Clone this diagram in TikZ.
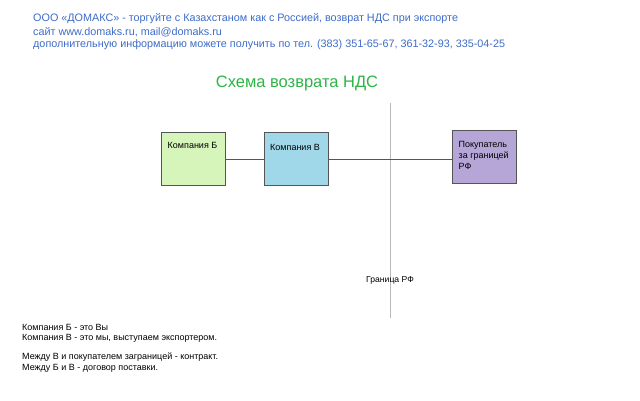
\documentclass[tikz,border=0pt]{standalone}
\usepackage{fontspec}
\setmainfont{Liberation Sans}
\usetikzlibrary{positioning}

\definecolor{hdrblue}{RGB}{62,108,200}
\definecolor{titlegreen}{RGB}{46,180,72}
\definecolor{fillB}{RGB}{214,245,186}
\definecolor{fillV}{RGB}{160,216,234}
\definecolor{fillBuyer}{RGB}{181,166,215}
\definecolor{edgegray}{RGB}{85,85,85}
\definecolor{bordergray}{RGB}{185,185,185}

\begin{document}
\begin{tikzpicture}[x=1pt, y=-1pt,
  hdr/.style={text=hdrblue, anchor=west, inner sep=0, font=\fontsize{10.8}{12}\selectfont},
  firm/.style={draw=edgegray, line width=1pt, minimum width=64pt, minimum height=52pt, inner sep=0},
  firmtext/.style={anchor=north west, inner sep=0, align=left, font=\fontsize{9}{11}\selectfont},
  link/.style={draw=edgegray, line width=0.9pt},
  note/.style={anchor=west, inner sep=0, font=\fontsize{9}{10}\selectfont}]
\useasboundingbox[fill=white] (0,0) rectangle (640,401);

% header
\node[hdr] (hdrA) at (33,19) {ООО «ДОМАКС» - торгуйте с Казахстаном как с Россией, возврат НДС при экспорте};
\node[hdr] (hdrB) at (33,32) {сайт www.domaks.ru, mail@domaks.ru};
\node[hdr] (hdrC) at (33,45) {дополнительную информацию можете получить по тел. (383) 351-65-67, 361-32-93, 335-04-25};

\node[text=titlegreen, font=\fontsize{16.5}{18}\selectfont] (title) at (297,83) {Схема возврата НДС};

% border of RF
\draw[bordergray, line width=0.9pt] (390,103) -- (390,318);
\node[font=\fontsize{8.6}{10}\selectfont, inner sep=0] (border) at (390,280) {Граница РФ};

% companies
\node[firm, fill=fillB] (compB) at (193,159) {};
\node[firm, fill=fillV] (compV) at (296.5,159) {};
\node[firm, fill=fillBuyer] (buyer) at (484,157) {};
\node[firmtext] (compBtxt) at ([xshift=7pt,yshift=-10pt]compB.north west) {Компания Б};
\node[firmtext] (compVtxt) at ([xshift=6pt,yshift=-12pt]compV.north west) {Компания В};
\node[firmtext] (buyertxt) at ([xshift=7pt,yshift=-10.5pt]buyer.north west) {Покупатель\\за границей\\РФ};

\draw[link] (compB.east) -- (compV.west);
\draw[link] (compV.east) -- (compV.east -| buyer.west);

% notes
\node[note] (noteA) at (22,327) {Компания Б - это Вы};
\node[note] (noteB) at (22,338) {Компания В - это мы, выступаем экспортером.};
\node[note] (noteC) at (22,357) {Между В и покупателем заграницей - контракт.};
\node[note] (noteD) at (22,368) {Между Б и В - договор поставки.};
\end{tikzpicture}
\end{document}
